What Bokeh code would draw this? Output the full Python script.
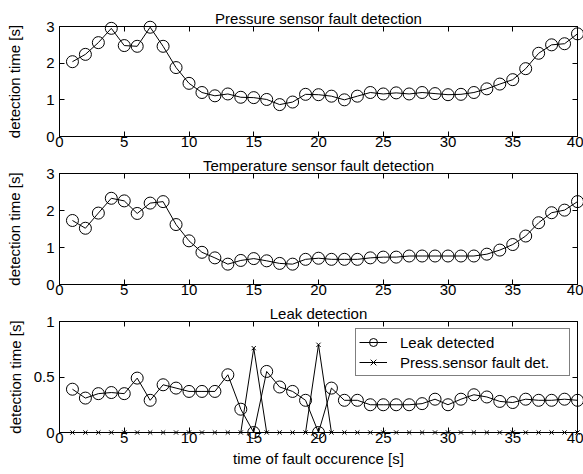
from bokeh.plotting import figure
from bokeh.layouts import column
from bokeh.models import (LinearAxis, FixedTicker, Range1d, Legend, LegendItem,
                          CustomLabelingPolicy)
from bokeh.embed import file_html
from bokeh.resources import INLINE

# ---------------- data ----------------
fault_time = list(range(1, 41))

pressure_det = [2.04, 2.24, 2.56, 2.95, 2.48, 2.46, 2.98, 2.46, 1.88, 1.45,
                1.20, 1.11, 1.16, 1.07, 1.06, 1.01, 0.87, 0.94, 1.15, 1.14,
                1.10, 1.00, 1.10, 1.20, 1.16, 1.19, 1.16, 1.20, 1.17, 1.14,
                1.15, 1.20, 1.30, 1.43, 1.55, 1.85, 2.27, 2.50, 2.53, 2.80]

temperature_det = [1.73, 1.52, 1.93, 2.33, 2.26, 1.92, 2.20, 2.24, 1.62, 1.18,
                   0.87, 0.72, 0.55, 0.65, 0.70, 0.64, 0.57, 0.55, 0.68, 0.71,
                   0.68, 0.68, 0.68, 0.72, 0.74, 0.74, 0.77, 0.77, 0.77, 0.77,
                   0.77, 0.77, 0.82, 0.93, 1.08, 1.31, 1.67, 1.94, 2.01, 2.24]

leak_det = [0.39, 0.31, 0.35, 0.36, 0.35, 0.49, 0.29, 0.43, 0.40, 0.37,
            0.37, 0.37, 0.52, 0.21, 0.00, 0.55, 0.41, 0.37, 0.29, 0.00,
            0.40, 0.29, 0.29, 0.25, 0.25, 0.25, 0.25, 0.26, 0.30, 0.25,
            0.30, 0.34, 0.32, 0.28, 0.27, 0.30, 0.29, 0.29, 0.30, 0.29]

press_fault_det = [0, 0, 0, 0, 0, 0, 0, 0, 0, 0,
                   0, 0, 0, 0, 0.76, 0, 0, 0, 0, 0.79,
                   0, 0, 0, 0, 0, 0, 0, 0, 0, 0,
                   0, 0, 0, 0, 0, 0, 0, 0, 0, 0]

x_ticks = [0, 5, 10, 15, 20, 25, 30, 35, 40]
y_ticks_big = [0, 1, 2, 3]
y_ticks_leak = [0, 0.5, 1]

titles = ["Pressure sensor fault detection",
          "Temperature sensor fault detection",
          "Leak detection"]
y_label = "detection time [s]"
x_label = "time of fault occurence [s]"
legend_labels = ["Leak detected", "Press.sensor fault det."]

FONT = "Liberation Sans"
FS = "15px"
W = 583


def make_fig(height, top, bottom, ymax, yticks, title, ylab_standoff, xlabel=None):
    p = figure(width=W, height=height, output_backend="svg", toolbar_location=None,
               x_range=Range1d(0, 40), y_range=Range1d(0, ymax),
               min_border_left=59, min_border_right=6,
               min_border_top=top, min_border_bottom=bottom,
               title=title, x_axis_label=xlabel, y_axis_label=y_label)
    p.background_fill_color = "white"
    p.border_fill_color = "white"
    p.outline_line_color = "black"
    p.outline_line_width = 1
    p.xgrid.visible = False
    p.ygrid.visible = False
    p.title.align = "center"
    p.title.text_font = FONT
    p.title.text_font_size = FS
    p.title.text_font_style = "normal"
    p.title.text_color = "black"
    p.title.standoff = 0
    p.title.offset = 0

    for ax in p.xaxis + p.yaxis:
        ax.major_tick_in = 5
        ax.major_tick_out = 0
        ax.minor_tick_line_color = None
        ax.axis_line_color = "black"
        ax.major_tick_line_color = "black"
        ax.major_label_text_font = FONT
        ax.major_label_text_font_size = FS
        ax.major_label_text_color = "black"
        ax.axis_label_text_font = FONT
        ax.axis_label_text_font_size = FS
        ax.axis_label_text_font_style = "normal"
        ax.axis_label_text_color = "black"
    p.xaxis.ticker = FixedTicker(ticks=x_ticks)
    p.yaxis.ticker = FixedTicker(ticks=yticks)
    p.xaxis.major_label_standoff = 0
    p.yaxis.major_label_standoff = 5
    p.yaxis.axis_label_standoff = ylab_standoff
    p.xaxis.axis_label_standoff = 4

    # ticks on top and right (box style), without labels
    top_ax = LinearAxis(ticker=FixedTicker(ticks=x_ticks))
    right_ax = LinearAxis(ticker=FixedTicker(ticks=yticks))
    for ax in (top_ax, right_ax):
        ax.major_tick_in = 5
        ax.major_tick_out = 0
        ax.minor_tick_line_color = None
        ax.major_label_text_font_size = "0px"
        ax.major_label_policy = CustomLabelingPolicy(code="return []")
        ax.major_label_standoff = 0
        ax.axis_line_color = "black"
        ax.major_tick_line_color = "black"
    p.add_layout(top_ax, "above")
    p.add_layout(right_ax, "right")
    return p


p1 = make_fig(153, 26, 17, 3, y_ticks_big, titles[0], 20)
p1.line(fault_time, pressure_det, line_color="black", line_width=1)
p1.scatter(fault_time, pressure_det, marker="circle", size=12,
           fill_color=None, line_color="black", line_width=1, level="overlay")

p2 = make_fig(148, 20, 17, 3, y_ticks_big, titles[1], 20)
p2.line(fault_time, temperature_det, line_color="black", line_width=1)
p2.scatter(fault_time, temperature_det, marker="circle", size=12,
           fill_color=None, line_color="black", line_width=1, level="overlay")

p3 = make_fig(173, 20, 42, 1, y_ticks_leak, titles[2], 7, xlabel=x_label)
l1 = p3.line(fault_time, leak_det, line_color="black", line_width=1)
s1 = p3.scatter(fault_time, leak_det, marker="circle", size=12,
                fill_color=None, line_color="black", line_width=1, level="overlay")
l2 = p3.line(fault_time, press_fault_det, line_color="black", line_width=1)
s2 = p3.scatter(fault_time, press_fault_det, marker="x", size=6,
                line_color="black", line_width=1, level="overlay")

legend = Legend(items=[LegendItem(label=legend_labels[0], renderers=[l1, s1]),
                       LegendItem(label=legend_labels[1], renderers=[l2, s2])],
                location="top_right")
legend.margin = 7
legend.padding = 3
legend.spacing = 0
legend.glyph_width = 28
legend.glyph_height = 20
legend.label_height = 20
legend.label_width = 166
legend.label_standoff = 13
legend.label_text_font = FONT
legend.label_text_font_size = FS
legend.label_text_color = "black"
legend.border_line_color = "black"
legend.border_line_width = 1
legend.background_fill_color = "white"
legend.background_fill_alpha = 1
p3.add_layout(legend)

layout = column(p1, p2, p3, spacing=0)
open("out.html", "w").write(file_html(layout, INLINE))
